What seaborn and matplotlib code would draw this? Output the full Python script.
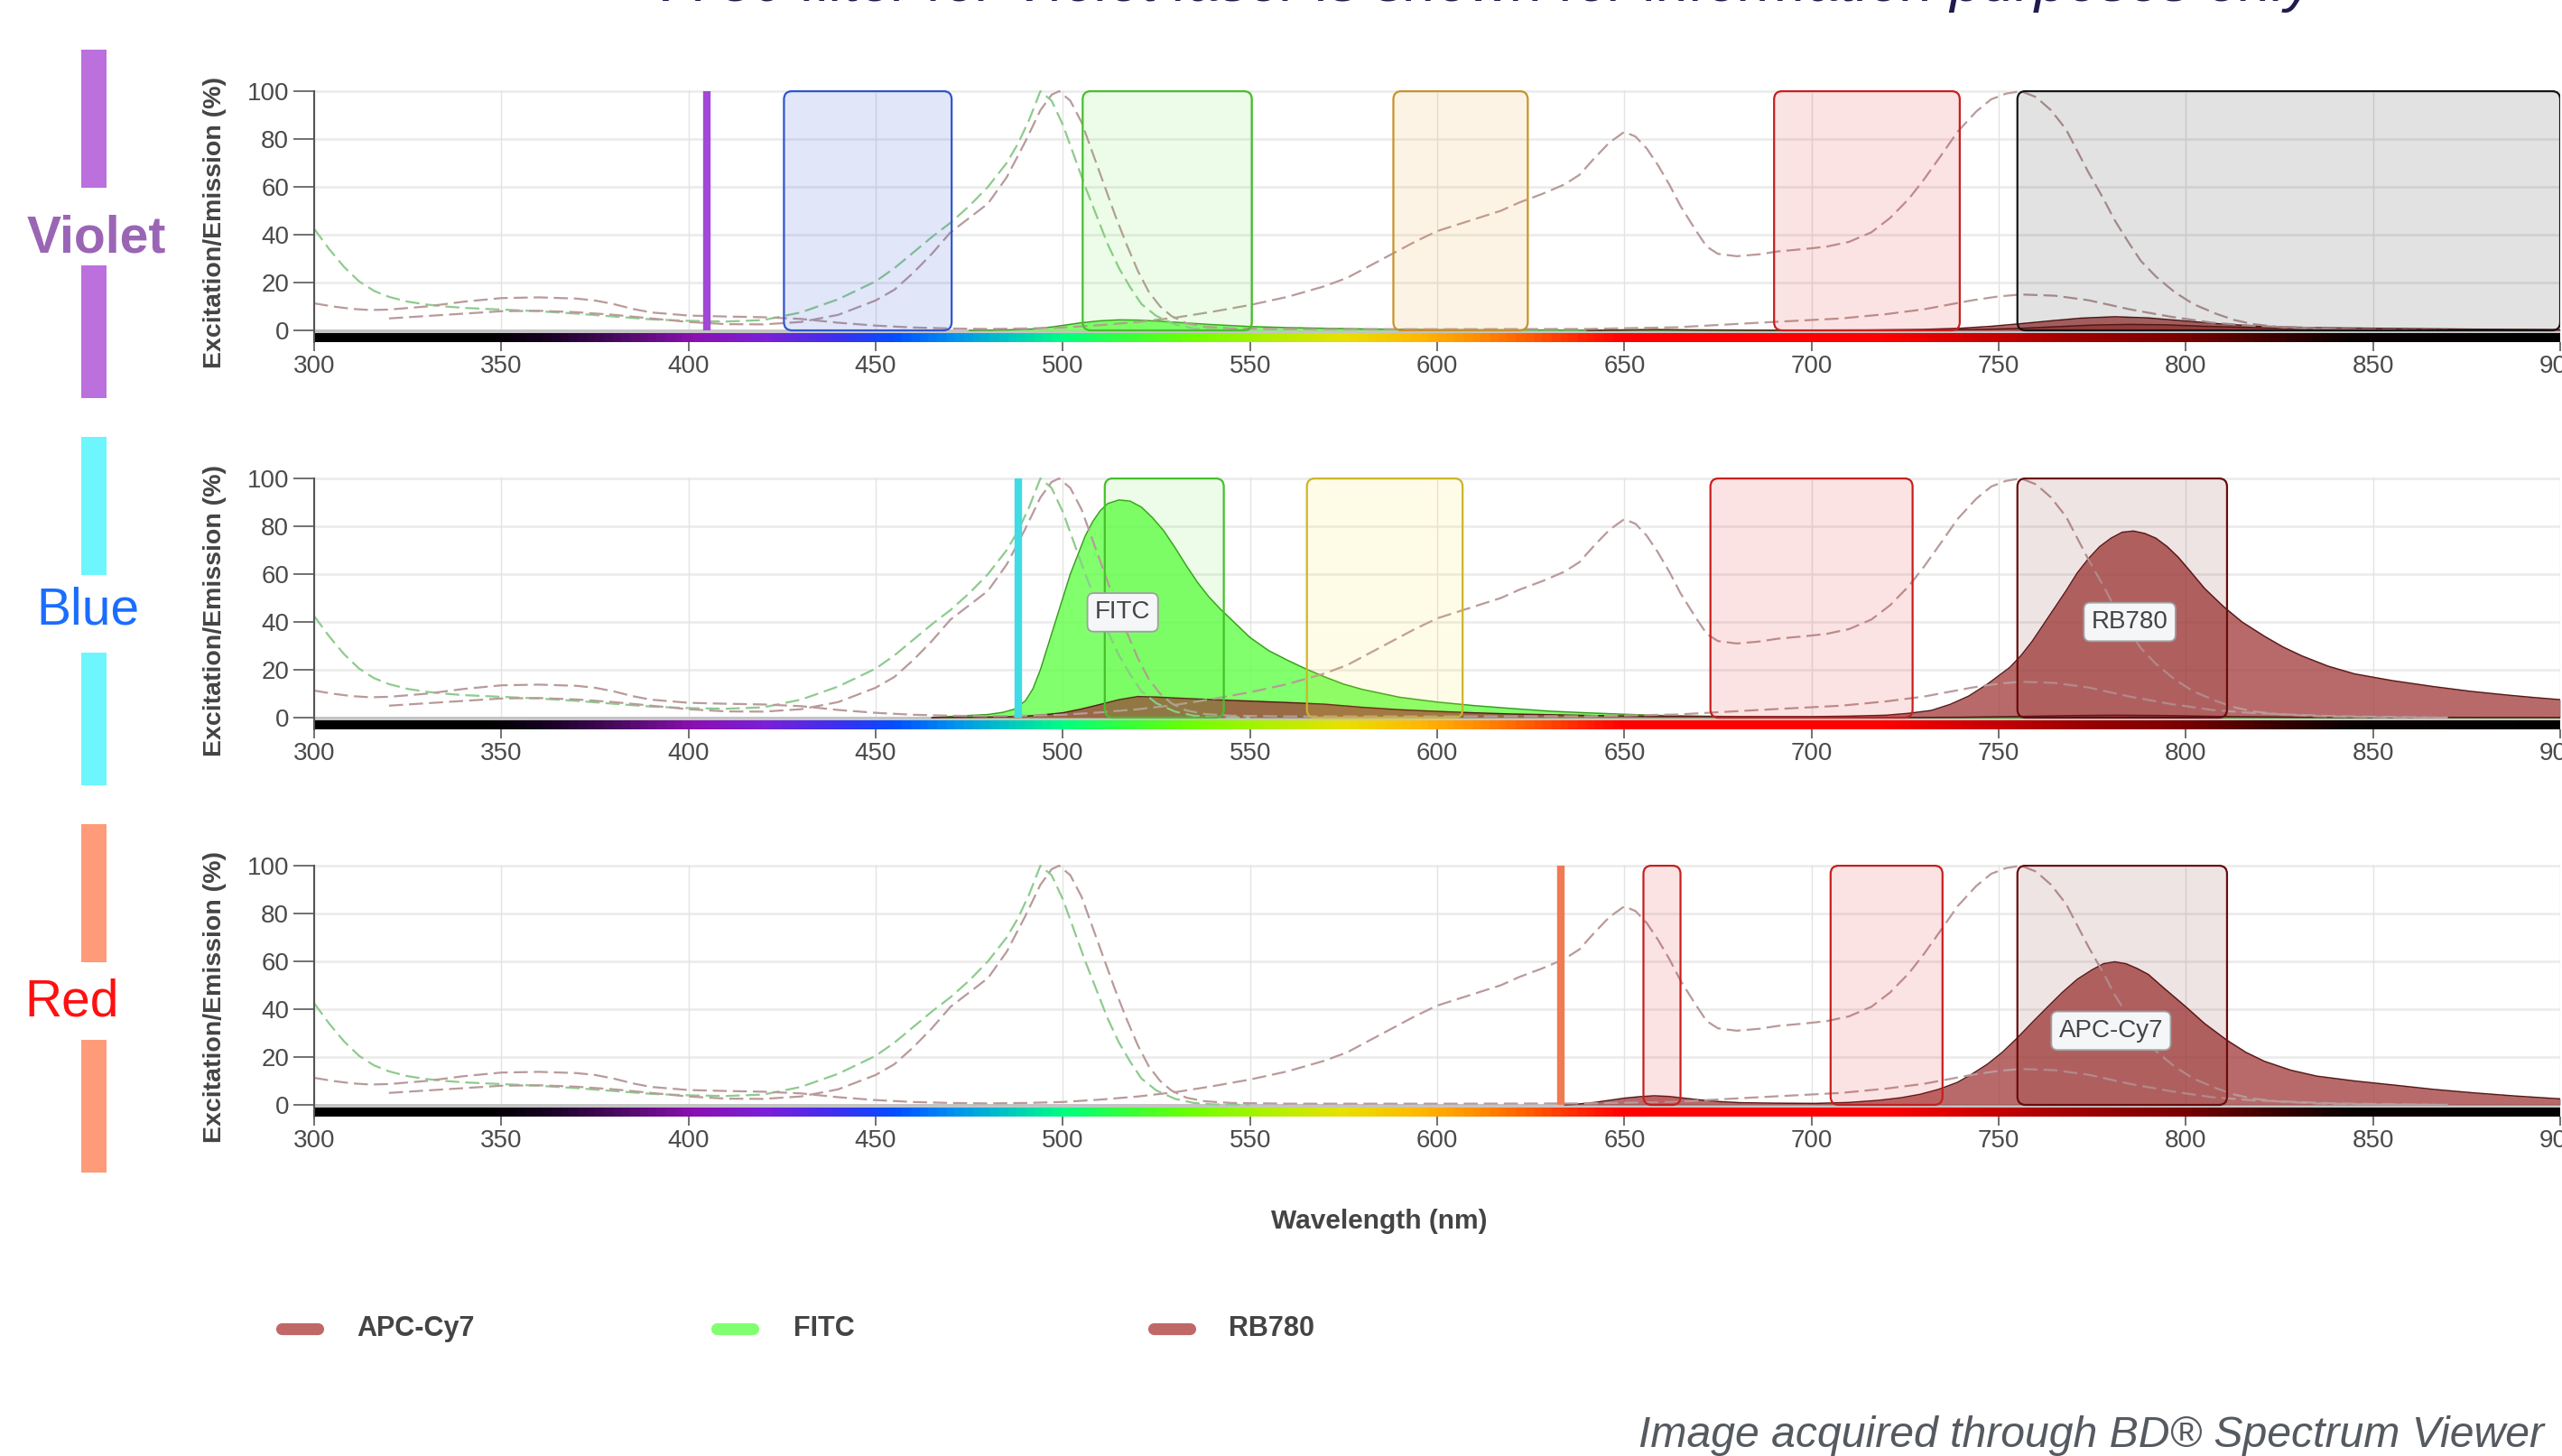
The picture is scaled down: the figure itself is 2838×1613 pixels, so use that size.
import numpy as np
import matplotlib
matplotlib.use("Agg")
import matplotlib.pyplot as plt
import seaborn as sns
from matplotlib.patches import FancyBboxPatch
from matplotlib.lines import Line2D
from matplotlib.colors import LinearSegmentedColormap

# ------------------------------------------------------------------ data
x_ticks = [300, 350, 400, 450, 500, 550, 600, 650, 700, 750, 800, 850, 900]
y_ticks = [0, 20, 40, 60, 80, 100]
FULL = 100

laser_names = ["Violet", "Blue", "Red"]
laser_wl = [405, 488, 633]

# excitation spectra (dashed, identical in every panel)
fitc_ex_wl = [300, 304, 308, 312, 316, 320, 325, 330, 335, 340,
              350, 360, 370, 380, 390, 400, 410, 420, 430, 440,
              450, 455, 460, 465, 470, 475, 480, 485, 488, 491,
              494, 497, 500, 503, 506, 509, 512, 515, 518, 521,
              525, 530, 535, 540, 550]
fitc_ex = [42.5, 34, 26.5, 20.5, 16.5, 14, 12, 10.8, 10, 9.4,
           8.7, 8, 7, 5.8, 4.6, 4, 3.7, 4.3, 7.5, 13,
           20.5, 26, 32.5, 39, 45, 52, 60, 70, 78, 88,
           100, 96, 86, 73, 60, 48, 36, 26, 18, 11,
           6, 2.5, 0.8, 0.2, 0]

rb780_ex_wl = [320, 330, 340, 350, 360, 370, 380, 390, 400, 410,
               420, 430, 440, 450, 455, 460, 465, 470, 475, 480,
               485, 490, 494, 497, 499, 502, 505, 508, 511, 514,
               517, 520, 523, 526, 529, 533, 538, 545, 560, 600,
               640, 664, 686, 708, 720, 730, 743, 750, 756, 765,
               774, 785, 796, 807, 818, 840, 870]
rb780_ex = [5, 6, 7, 8, 8.2, 7.6, 6.5, 5, 3.5, 2.6,
            2.5, 3.5, 6.5, 12.5, 17, 24, 32, 41, 47, 53,
            64, 79, 92, 98.5, 100, 96, 87, 74, 61, 48,
            36, 25, 16, 10, 6, 3, 1.5, 0.8, 0.5, 0.5,
            0.6, 1.3, 3.2, 5, 6.8, 8.8, 12.6, 14.2, 15, 14.5,
            12.6, 8.8, 5.7, 3.2, 1.9, 0.6, 0]

apccy7_ex_wl = [300, 305, 310, 315, 320, 330, 340, 350, 360, 370,
                375, 380, 385, 390, 400, 410, 420, 430, 435, 440,
                450, 460, 470, 480, 490, 500, 510, 520, 530, 540,
                550, 560, 570, 576, 582, 588, 594, 600, 606, 612,
                617, 622, 628, 634, 638, 642, 646, 650, 653, 656,
                659, 662, 665, 669, 672, 675, 680, 686, 691, 698,
                704, 710, 716, 721, 726, 730, 735, 739, 744, 748,
                752, 756, 760, 764, 768, 771, 774, 778, 781, 785,
                788, 792, 797, 802, 808, 813, 818, 825, 835, 850,
                870]
apccy7_ex = [11.3, 10, 9, 8.5, 8.7, 10, 12, 13.5, 13.8, 13.3,
             12.5, 11, 9, 7.5, 6.2, 5.8, 5.5, 4.8, 4, 3.2,
             2, 1.2, 0.8, 0.6, 0.8, 1.2, 2.2, 3.5, 5.3, 7.8,
             10.6, 14, 18.5, 22, 27, 32, 37, 41.5, 44.5, 47.5,
             50, 53.5, 57, 61, 65, 72, 78.5, 83, 81, 76,
             69, 61, 52, 42, 35, 32, 31, 31.8, 33, 34,
             35, 37, 41, 47, 55, 63, 74, 83, 91.5, 96.6,
             99, 100, 97.5, 92, 84, 75, 66, 55, 46, 36,
             29, 22.5, 16, 11, 7, 4.3, 2.6, 1.4, 0.6, 0.2,
             0]

# emission spectra (filled), per laser panel
fitc_em_violet_wl = [475, 485, 492, 497, 501, 505, 510, 515, 520, 525,
                     530, 540, 550, 560, 580, 600, 640, 700]
fitc_em_violet = [0, 0.2, 0.6, 1.4, 2.3, 3.2, 4, 4.4, 4.3, 3.9,
                  3.4, 2.4, 1.6, 1.15, 0.6, 0.3, 0.1, 0]

rb780_em_violet_wl = [720, 735, 745, 755, 765, 775, 785, 795, 805, 820, 840, 870, 900]
rb780_em_violet = [0, 0.2, 0.4, 0.8, 1.5, 2.2, 2.5, 2.3, 1.7, 1.1, 0.7, 0.4, 0.25]

apccy7_em_violet_wl = [640, 650, 658, 668, 690, 715, 730, 740, 748, 756,
                       764, 772, 781, 790, 800, 810, 820, 835, 855, 875, 900]
apccy7_em_violet = [0, 0.2, 0.35, 0.2, 0.05, 0.15, 0.4, 0.9, 1.7, 2.8,
                    4, 5.1, 5.7, 5.2, 3.9, 2.6, 1.7, 1.1, 0.8, 0.5, 0.25]

fitc_em_blue_wl = [465, 470, 475, 480, 484, 487, 490, 492, 494, 496,
                   498, 500, 502, 504, 506, 508, 510, 512, 515, 518,
                   521, 524, 527, 530, 533, 536, 539, 542, 545, 550,
                   555, 560, 565, 570, 575, 580, 590, 600, 610, 620,
                   630, 640, 650, 660, 680, 700, 750, 900]
fitc_em_blue = [0, 0.5, 0.9, 1.3, 2.2, 3.5, 7, 12, 20, 30,
                40, 50, 60, 68, 76, 82, 86.5, 89.5, 91, 90.5,
                88, 83.5, 78, 71, 63.5, 56.5, 50.5, 45.5, 41, 33.5,
                28, 24, 20.3, 17, 14, 11.8, 8.5, 6.5, 5, 3.8,
                2.7, 2, 1.4, 0.9, 0.4, 0.2, 0, 0]

rb780_em_blue_wl = [465, 485, 490, 495, 500, 505, 510, 515, 520, 525,
                    530, 540, 550, 560, 570, 580, 590, 600, 610, 620,
                    640, 660, 680, 700, 710, 720, 726, 732, 737, 742,
                    747, 753, 756, 759, 762, 765, 768, 771, 774, 777,
                    780, 783, 786, 789, 792, 795, 798, 801, 805, 810,
                    815, 821, 826, 831, 838, 845, 855, 866, 876, 886,
                    893, 900]
rb780_em_blue = [0, 0.3, 0.6, 1.2, 2, 3.6, 5.5, 7.5, 8.8, 8.6,
                 8.2, 7.5, 6.9, 6.3, 5.6, 4.3, 3.3, 2.6, 2, 1.5,
                 0.9, 0.5, 0.4, 0.4, 0.6, 1, 1.8, 3, 5.5, 9,
                 14, 21, 26, 32, 39, 46, 53, 60.5, 66.5, 71.5,
                 75, 77.5, 78, 77, 75, 71.5, 67, 61.5, 54, 46.5,
                 40, 34, 29.5, 25.8, 21.5, 18.3, 15.5, 13, 11, 9.4,
                 8.4, 7.5]

apccy7_em_blue_wl = [720, 740, 756, 770, 781, 795, 810, 830, 870, 900]
apccy7_em_blue = [0, 0.15, 0.5, 0.85, 1, 0.85, 0.45, 0.2, 0.1, 0.05]

apccy7_em_red_wl = [634, 638, 642, 646, 650, 654, 658, 662, 666, 670,
                    675, 681, 690, 701, 710, 718, 724, 729, 734, 739,
                    743, 747, 751, 755, 759, 763, 767, 771, 775, 778,
                    781, 784, 787, 790, 794, 797, 800, 805, 811, 816,
                    821, 828, 835, 845, 856, 866, 877, 888, 900]
apccy7_em_red = [0, 0.4, 1, 1.9, 2.8, 3.4, 3.8, 3.5, 2.8, 2.1,
                 1.4, 0.9, 0.7, 0.6, 1, 1.9, 3, 4.4, 6.5, 9.4,
                 13, 17, 22, 28, 34.5, 40.8, 47, 52.5, 56.5, 59,
                 59.8, 59, 57, 54.5, 49, 45, 41, 34, 27, 22,
                 18.2, 14.5, 12, 10, 8.2, 6.5, 5, 3.7, 2.5]

# detector filters (band edges, nm)
violet_filter_lo = [425.5, 505.3, 588.3, 690.0, 755.0]
violet_filter_hi = [470.3, 550.5, 624.2, 739.6, 900.0]
blue_filter_lo = [511.2, 565.2, 673.0, 755.0]
blue_filter_hi = [543.0, 606.8, 727.0, 811.0]
red_filter_lo = [655.1, 705.1, 755.0]
red_filter_hi = [665.0, 735.0, 811.0]

# fluorochrome tags shown on the plot
blue_tag_names = ["FITC", "RB780"]
blue_tag_wl = [516, 785]
blue_tag_val = [44, 40]
red_tag_names = ["APC-Cy7"]
red_tag_wl = [780]
red_tag_val = [31]

legend_labels = ["APC-Cy7", "FITC", "RB780"]

TOP_NOTE = "*V780 filter for Violet laser is shown for information purposes only"
FOOTER = "Image acquired through BD\u00ae Spectrum Viewer"

# ------------------------------------------------------------------ styles
violet_filter_style = ["blue", "green", "amber", "red", "black"]
blue_filter_style = ["green", "yellow", "red", "maroon"]
red_filter_style = ["red", "red", "maroon"]
FILTER_STYLE = {
    "blue":   ("#2f55cc", (0.18, 0.33, 0.85, 0.14)),
    "green":  ("#45c02a", (0.35, 0.90, 0.20, 0.11)),
    "amber":  ("#c8922a", (0.95, 0.65, 0.20, 0.13)),
    "red":    ("#c81e1e", (0.90, 0.10, 0.10, 0.12)),
    "black":  ("#151515", (0.00, 0.00, 0.00, 0.115)),
    "yellow": ("#cbb52a", (0.98, 0.88, 0.20, 0.12)),
    "maroon": ("#6a0c0c", (0.45, 0.05, 0.05, 0.11)),
}
DYE_FILL = {"FITC": ((0.42, 1.0, 0.32), 0.85, "#36a01c"),
            "RB780": ((0.63, 0.22, 0.22), 0.75, "#5a1a1a"),
            "APC-Cy7": ((0.63, 0.22, 0.22), 0.75, "#5a1a1a")}
EX_COLOR = {"FITC": "#8ecb8e", "RB780": "#b99a9a", "APC-Cy7": "#b99a9a"}
LEGEND_COLOR = {"APC-Cy7": "#c06868", "FITC": "#80ff70", "RB780": "#c06868"}
LASER_COLOR = ["#a347d6", "#3fdbe6", "#f07a52"]
NAME_COLOR = ["#9b65b5", "#1a6dff", "#ff1010"]
NAME_WEIGHT = ["bold", "normal", "normal"]
NAME_X = [107, 97, 80]
NAME_Y = [264, 676, 1111]
BAR_COLOR = ["#bb70dd", "#6ef6ff", "#ff9b78"]

panels = [
    dict(filters=(violet_filter_lo, violet_filter_hi, violet_filter_style),
         emissions=[("FITC", fitc_em_violet_wl, fitc_em_violet),
                    ("RB780", rb780_em_violet_wl, rb780_em_violet),
                    ("APC-Cy7", apccy7_em_violet_wl, apccy7_em_violet)],
         tags=([], [], [])),
    dict(filters=(blue_filter_lo, blue_filter_hi, blue_filter_style),
         emissions=[("FITC", fitc_em_blue_wl, fitc_em_blue),
                    ("APC-Cy7", apccy7_em_blue_wl, apccy7_em_blue),
                    ("RB780", rb780_em_blue_wl, rb780_em_blue)],
         tags=(blue_tag_names, blue_tag_wl, blue_tag_val)),
    dict(filters=(red_filter_lo, red_filter_hi, red_filter_style),
         emissions=[("APC-Cy7", apccy7_em_red_wl, apccy7_em_red)],
         tags=(red_tag_names, red_tag_wl, red_tag_val)),
]
excitations = [("FITC", fitc_ex_wl, fitc_ex),
               ("RB780", rb780_ex_wl, rb780_ex),
               ("APC-Cy7", apccy7_ex_wl, apccy7_ex)]

# spectrum colour strip under the axis
spec_nodes = [300, 345, 360, 380, 400, 420, 440, 455, 470, 485, 500, 515, 535,
              555, 575, 595, 610, 625, 640, 650, 720, 740, 770, 800, 825, 845, 900]
spec_cols = ["#000000", "#000000", "#150020", "#4a0a60", "#8a10b0", "#7a20d8",
             "#3a30f0", "#0050ff", "#0090f0", "#00c8c0", "#00ff80", "#30ff40",
             "#70ff00", "#b0f000", "#e8e000", "#ffb800", "#ff9000", "#ff5a00",
             "#ff2000", "#ff0000", "#ff0000", "#d80000", "#a00000", "#7a0000",
             "#3a0000", "#0a0000", "#000000"]

# ------------------------------------------------------------------ figure
sns.set_theme(style="white")
plt.rcParams["font.family"] = ["Liberation Sans", "DejaVu Sans"]

W, H, DPI = 2838, 1613, 100
fig = plt.figure(figsize=(W / DPI, H / DPI), dpi=DPI)


def fx(px):
    return px / W


def fy(py):
    return 1 - py / H


AX_L, AX_R = 348, 2836
Y100_PX = [101, 530, 959]
PX_UNIT = 2.65
YMIN, YMAX = -5, 100.5
PX_NM = (AX_R - AX_L) / (x_ticks[-1] - x_ticks[0])

cmap = LinearSegmentedColormap.from_list(
    "spec", [((w - spec_nodes[0]) / (spec_nodes[-1] - spec_nodes[0]), c)
             for w, c in zip(spec_nodes, spec_cols)])
TICK_COLOR = "#4a4a4a"

for i, p in enumerate(panels):
    top_px = Y100_PX[i] - (YMAX - 100) * PX_UNIT
    bot_px = Y100_PX[i] + (100 - YMIN) * PX_UNIT
    ax = fig.add_axes([fx(AX_L), fy(bot_px), fx(AX_R) - fx(AX_L), (bot_px - top_px) / H])
    ax.set_facecolor("white")

    # grid
    for yt in y_ticks:
        ax.axhline(yt, color="#ebebeb", lw=1.8, zorder=0.5)
    for xt in x_ticks:
        ax.axvline(xt, color="#e3e3e3", lw=1.0, zorder=0.5)

    # spectrum colour strip
    ax.imshow(np.linspace(0, 1, 1200)[None, :], extent=(300, 900, -5, -1.3),
              aspect="auto", cmap=cmap, zorder=1.5, interpolation="bilinear")
    ax.axhspan(-1.3, 0.3, color="#c4c4c4", zorder=1.4, lw=0)

    # emission fills
    for dye, wl, val in p["emissions"]:
        fc, al, ec = DYE_FILL[dye]
        ax.fill_between(wl, 0, val, color=fc, alpha=al, lw=0, zorder=2)
        sns.lineplot(x=wl, y=val, ax=ax, color=ec, lw=1.1, legend=False, zorder=2.1)

    # excitation dashed curves
    for dye, wl, val in excitations:
        sns.lineplot(x=wl, y=val, ax=ax, color=EX_COLOR[dye], lw=1.6,
                     linestyle=(0, (7, 3)), legend=False, zorder=3)

    # filters
    lo, hi, sty = p["filters"]
    for a, b, s in zip(lo, hi, sty):
        ec, fc = FILTER_STYLE[s]
        box = FancyBboxPatch((a, 0), b - a, FULL,
                             boxstyle="round,pad=0,rounding_size=2.2",
                             mutation_aspect=PX_NM / PX_UNIT,
                             facecolor=fc, edgecolor=ec, lw=1.6, zorder=4)
        ax.add_patch(box)

    # laser line
    ax.vlines(laser_wl[i], 0, FULL, color=LASER_COLOR[i], lw=6, zorder=5)

    # tags
    for name, xw, yv in zip(*p["tags"]):
        ax.text(xw, yv, name, ha="center", va="center", fontsize=20, color="#444444",
                zorder=7,
                bbox=dict(boxstyle="round,pad=0.3,rounding_size=0.25", fc="#f4f6f8",
                          ec="#a0a0a0", lw=1.3))

    ax.set_xlim(300, 900)
    ax.set_ylim(YMIN, YMAX)
    ax.set_xticks(x_ticks)
    ax.set_yticks(y_ticks)
    ax.tick_params(axis="y", length=16.5, width=1.3, color="#666666", pad=3.5,
                   labelsize=20, labelcolor=TICK_COLOR, left=True)
    ax.tick_params(axis="x", length=7, width=1.3, color="#666666", pad=3,
                   labelsize=20, labelcolor=TICK_COLOR, bottom=True)
    for s in ["top", "right", "bottom"]:
        ax.spines[s].set_visible(False)
    ax.spines["left"].set_color("#555555")
    ax.spines["left"].set_linewidth(1.5)
    ax.spines["left"].set_bounds(YMIN, 100)
    ax.spines["left"].set_zorder(6)
    ax.set_xlabel("")
    ax.set_ylabel("Excitation/Emission (%)", fontsize=20.5, fontweight="bold",
                  color="#444444")
    ax.yaxis.set_label_coords((251 - AX_L) / (AX_R - AX_L),
                              (bot_px - (Y100_PX[i] + 146)) / (bot_px - top_px))

    # laser name with coloured bars
    off = 429 * i
    fig.patches.append(matplotlib.patches.Rectangle(
        (fx(90), fy(208 + off)), fx(118) - fx(90), fy(55 + off) - fy(208 + off),
        transform=fig.transFigure, color=BAR_COLOR[i], lw=0))
    fig.patches.append(matplotlib.patches.Rectangle(
        (fx(90), fy(441 + off)), fx(118) - fx(90), fy(294 + off) - fy(441 + off),
        transform=fig.transFigure, color=BAR_COLOR[i], lw=0))
    fig.text(fx(NAME_X[i]), fy(NAME_Y[i]), laser_names[i], ha="center", va="center",
             fontsize=41, color=NAME_COLOR[i], fontweight=NAME_WEIGHT[i])

# x label
fig.text(fx(1528), fy(1353), "Wavelength (nm)", ha="center", va="center",
         fontsize=21.5, fontweight="bold", color="#444444")

# legend
leg_swatch = [(312, 352), (794, 834), (1278, 1318)]
leg_text_x = [395, 879, 1361]
LEG_Y = 1472
for lab, (a, b), tx in zip(legend_labels, leg_swatch, leg_text_x):
    fig.add_artist(Line2D([fx(a), fx(b)], [fy(LEG_Y), fy(LEG_Y)], transform=fig.transFigure,
                          lw=9.5, color=LEGEND_COLOR[lab], solid_capstyle="round"))
    fig.text(fx(tx), fy(LEG_Y), lab, ha="left", va="center", fontsize=22,
             fontweight="bold", color="#444444")

# top note (cut at the image edge) and footer
top = fig.text(fx(1629), fy(1.5), TOP_NOTE, ha="center", va="baseline", fontsize=40,
               style="italic", color="#1f1b4d")
foot = fig.text(fx(2818), fy(1603), FOOTER, ha="right", va="baseline", fontsize=34,
                style="italic", color="#555a60")
fig.canvas.draw()
r = fig.canvas.get_renderer()
top.set_fontsize(40 * 1865 / top.get_window_extent(r).width)
foot.set_fontsize(34 * 1002 / foot.get_window_extent(r).width)

fig.savefig("out.png", dpi=DPI, facecolor="white")
